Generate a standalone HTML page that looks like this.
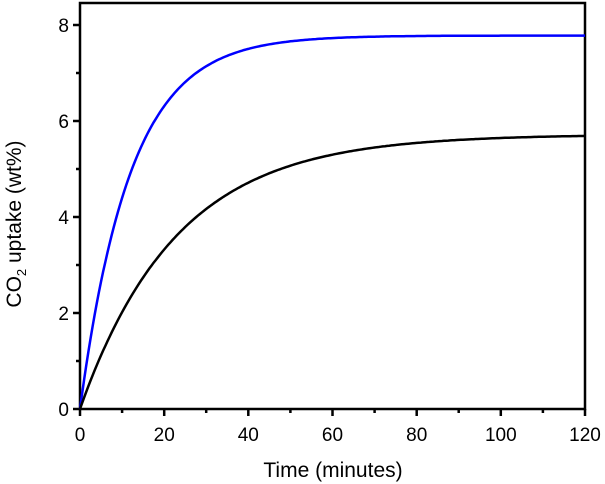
<!DOCTYPE html>
<html><head><meta charset="utf-8"><style>
html,body{margin:0;padding:0;background:#fff;width:605px;height:484px;overflow:hidden}
text{font-family:"Liberation Sans",Arial,sans-serif;fill:#000}
</style></head><body>
<svg id="s" width="605" height="484" viewBox="0 0 605 484" xmlns="http://www.w3.org/2000/svg">
<rect x="80" y="3" width="505" height="406" fill="none" stroke="#000" stroke-width="2.5"/>
<g stroke="#000" stroke-width="2.5">
<line x1="73" y1="409" x2="80" y2="409"/><line x1="73" y1="313" x2="80" y2="313"/>
<line x1="73" y1="217" x2="80" y2="217"/><line x1="73" y1="121" x2="80" y2="121"/>
<line x1="73" y1="25" x2="80" y2="25"/>
<line x1="76" y1="361" x2="80" y2="361"/><line x1="76" y1="265" x2="80" y2="265"/>
<line x1="76" y1="169" x2="80" y2="169"/><line x1="76" y1="73" x2="80" y2="73"/>
<line x1="80" y1="409" x2="80" y2="416"/><line x1="164.2" y1="409" x2="164.2" y2="416"/>
<line x1="248.3" y1="409" x2="248.3" y2="416"/><line x1="332.5" y1="409" x2="332.5" y2="416"/>
<line x1="416.7" y1="409" x2="416.7" y2="416"/><line x1="500.8" y1="409" x2="500.8" y2="416"/>
<line x1="585" y1="409" x2="585" y2="416"/>
<line x1="122.1" y1="409" x2="122.1" y2="413"/><line x1="206.2" y1="409" x2="206.2" y2="413"/>
<line x1="290.4" y1="409" x2="290.4" y2="413"/><line x1="374.6" y1="409" x2="374.6" y2="413"/>
<line x1="458.7" y1="409" x2="458.7" y2="413"/><line x1="542.9" y1="409" x2="542.9" y2="413"/>
</g>
<g font-size="19" text-anchor="end">
<text x="69" y="416">0</text><text x="69" y="320">2</text><text x="69" y="224">4</text>
<text x="69" y="128">6</text><text x="69" y="32">8</text>
</g>
<g font-size="19" text-anchor="middle">
<text x="80" y="441">0</text><text x="164.2" y="441">20</text><text x="248.3" y="441">40</text>
<text x="332.5" y="441">60</text><text x="416.7" y="441">80</text><text x="500.8" y="441">100</text>
<text x="585" y="441">120</text>
</g>
<text x="333" y="477" font-size="21" text-anchor="middle">Time (minutes)</text>
<text transform="translate(21,224) rotate(-90)" font-size="21" text-anchor="middle">CO<tspan font-size="13" dy="5">2</tspan><tspan dy="-5"> uptake (wt%)</tspan></text>
<path id="b" fill="none" stroke="#0000ff" stroke-width="2.5"/>
<path id="k" fill="none" stroke="#000" stroke-width="2.5"/>
</svg>
<script>
function mk(A,tau){var d="";for(var t=0;t<=120;t+=0.5){var y=A*(1-Math.exp(-t/tau));d+=(t?"L":"M")+(80+t*505/120).toFixed(1)+","+(409-y*48).toFixed(1);}return d;}
document.getElementById("b").setAttribute("d",mk(7.78,12));
document.getElementById("k").setAttribute("d",mk(5.72,23));
</script>
</body></html>
